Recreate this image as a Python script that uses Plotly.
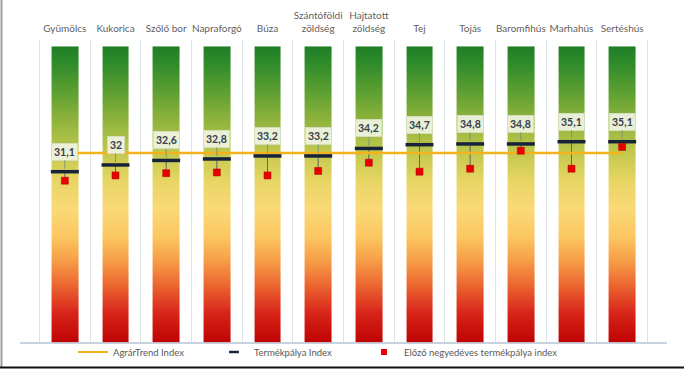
import plotly.graph_objects as go

# Product-line indices per sector
CATEGORIES = ["Gyümölcs", "Kukorica", "Szőlő bor", "Napraforgó", "Búza",
              "Szántóföldi<br>zöldség", "Hajtatott<br>zöldség", "Tej", "Tojás",
              "Baromfihús", "Marhahús", "Sertéshús"]
TERMEKPALYA = [31.1, 32.0, 32.6, 32.8, 33.2, 33.2, 34.2, 34.7, 34.8, 34.8, 35.1, 35.1]
ELOZO = [29.9, 30.6, 30.9, 31.0, 30.6, 31.2, 32.3, 31.1, 31.5, 33.9, 31.5, 34.4]
AGRARTREND = 33.6

# Value scale shown by the coloured background columns
SCALE_MIN, SCALE_MAX = 8.4, 47.8
AXIS_RANGE = [8.26, 48.66]

W, H = 684, 371
M = dict(l=20, r=17, t=40, b=28, autoexpand=False)
pw = W - M["l"] - M["r"]
ph = H - M["t"] - M["b"]

# Gradient columns: red at the bottom, through yellow, to green at the top
n_rows = 200
dy = (SCALE_MAX - SCALE_MIN) / n_rows
levels = [SCALE_MIN + dy * (i + 0.5) for i in range(n_rows)]
colorscale = [
    [0.00, "#c00303"], [0.10, "#d8261a"], [0.19, "#ec6530"], [0.28, "#f7a148"],
    [0.36, "#fbc862"], [0.45, "#fad977"], [0.55, "#e6d563"], [0.65, "#bec74c"],
    [0.75, "#8fb43d"], [0.85, "#5c9e31"], [0.95, "#2c8a2b"], [1.00, "#1e7d26"],
]

ORANGE = "#f2b31e"
NAVY = "#17233a"
RED = "#e60000"

fig = go.Figure()
fig.add_trace(go.Heatmap(
    x=CATEGORIES, y0=levels[0], dy=dy,
    z=[[lv] * len(CATEGORIES) for lv in levels],
    zmin=SCALE_MIN, zmax=SCALE_MAX, colorscale=colorscale,
    showscale=False, xgap=24, hoverinfo="skip",
))

# Thin connectors between previous and current product-line index
cx, cy = [], []
for c, a, b in zip(CATEGORIES, TERMEKPALYA, ELOZO):
    cx += [c, c, None]
    cy += [a, b, None]
fig.add_trace(go.Scatter(x=cx, y=cy, mode="lines", showlegend=False,
                         line=dict(color="#5d6b5a", width=1), hoverinfo="skip"))

fig.add_trace(go.Scatter(
    x=CATEGORIES, y=[AGRARTREND] * len(CATEGORIES), mode="lines",
    showlegend=False, line=dict(color=ORANGE, width=2.5)))

fig.add_trace(go.Scatter(
    x=CATEGORIES, y=TERMEKPALYA, mode="markers", showlegend=False,
    marker=dict(symbol="line-ew", size=20, line=dict(color=NAVY, width=3.5))))

fig.add_trace(go.Scatter(
    x=CATEGORIES, y=ELOZO, mode="markers", showlegend=False,
    marker=dict(symbol="square", size=7, color=RED,
                line=dict(color="#b00000", width=0.5))))

# Legend entries (small symbols), one legend each so they can be spaced freely
fig.add_trace(go.Scatter(x=[None], y=[None], mode="lines", name="AgrárTrend Index",
                         line=dict(color=ORANGE, width=2), legend="legend"))
fig.add_trace(go.Scatter(x=[None], y=[None], mode="markers", name="Termékpálya Index",
                         marker=dict(symbol="line-ew", size=7,
                                     line=dict(color=NAVY, width=2.5)),
                         legend="legend2"))
fig.add_trace(go.Scatter(x=[None], y=[None], mode="markers",
                         name="Előző negyedéves termékpálya index",
                         marker=dict(symbol="square", size=6, color=RED),
                         legend="legend3"))

# Value labels above each product-line index
for c, v in zip(CATEGORIES, TERMEKPALYA):
    fig.add_annotation(
        x=c, y=v, text=f"<b>{v:g}</b>".replace(".", ","),
        showarrow=True, arrowhead=0, arrowwidth=1, arrowcolor="#7c9a70",
        ax=0, ay=-20, standoff=3,
        font=dict(family="Lato", size=10.5, color="#34404f"),
        bgcolor="rgba(238,242,222,0.95)", bordercolor="#d5ddc0", borderwidth=1,
        borderpad=2,
    )

# Baseline under the columns and the outer frame
fig.add_shape(type="line", xref="paper", yref="paper", x0=0, x1=1, y0=0, y1=0,
              line=dict(color="#b7c4d4", width=1.5))
fig.add_shape(type="line", xref="paper", yref="paper",
              x0=(1.5 - M["l"]) / pw, x1=(1.5 - M["l"]) / pw,
              y0=(H - 367 - M["b"]) / ph, y1=(H - M["b"]) / ph,
              line=dict(color="#a0a0a0", width=2))
fig.add_shape(type="line", xref="paper", yref="paper",
              x0=-M["l"] / pw, x1=(W - M["l"]) / pw,
              y0=(H - 367.5 - M["b"]) / ph, y1=(H - 367.5 - M["b"]) / ph,
              line=dict(color="#111111", width=2))

def legend_at(px):
    return dict(orientation="h", x=(px - M["l"]) / pw, xanchor="left",
                y=-(352 - (H - M["b"])) / ph, yanchor="middle",
                font=dict(size=9.5, color="#595959"), itemsizing="trace",
                bgcolor="rgba(0,0,0,0)", borderwidth=0)

fig.update_layout(
    width=W, height=H, margin=M,
    paper_bgcolor="white", plot_bgcolor="white",
    font=dict(family="Lato", size=9, color="#595959"),
    xaxis=dict(type="category", side="top", tickson="boundaries",
               showgrid=True, gridcolor="#dbe2ea", gridwidth=1,
               ticks="", showline=False, zeroline=False, tickangle=0,
               automargin=False,
               tickfont=dict(size=10, color="#5f5f5f"), ticklabelstandoff=5,
               fixedrange=True),
    yaxis=dict(range=AXIS_RANGE, showgrid=False, showticklabels=False,
               zeroline=False, showline=False, ticks="", fixedrange=True,
               automargin=False),
    showlegend=True,
    legend=legend_at(73),
    legend2=legend_at(214),
    legend3=legend_at(364),
)

fig.write_html("out.html")
